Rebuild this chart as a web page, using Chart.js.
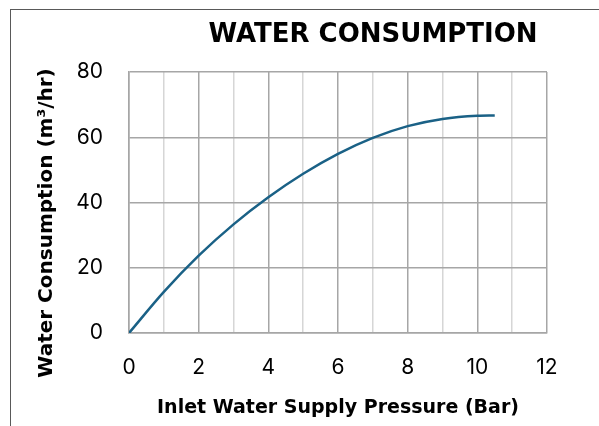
<!DOCTYPE html>
<html>
<head>
<meta charset="utf-8">
<script src="https://cdn.jsdelivr.net/npm/chart.js@4"></script>
<style>
  html, body { margin: 0; padding: 0; background: #fff; }
  #wrap { position: relative; width: 599px; height: 426px; overflow: hidden; }
  #frame { position: absolute; left: 10px; top: 9px; width: 700px; height: 500px;
           border-left: 1.5px solid #595959; border-top: 1.5px solid #595959; }
  canvas { position: absolute; left: 0; top: 0; }
</style>
</head>
<body>
<div id="wrap">
  <div id="frame"></div>
  <canvas id="waterChart" width="599" height="426"></canvas>
</div>
<script>
// pressure (bar) vs consumption (m3/hr)
const pressure = [0, 1, 2, 3, 4, 5, 6, 7, 8, 9, 10, 10.5];
const consumption = [0, 12.6, 23.7, 33.3, 41.6, 48.8, 54.9, 59.8, 63.4, 65.6, 66.6, 66.7];

const chartTitle = 'WATER CONSUMPTION';
const xTitle = 'Inlet Water Supply Pressure (Bar)';
const yTitle = 'Water Consumption (m³/hr)';

const points = pressure.map((p, i) => ({ x: p, y: consumption[i] }));

// titles placed where the original has them
const titlesPlugin = {
  id: 'titles',
  afterDraw(chart) {
    const ctx = chart.ctx;
    ctx.save();
    ctx.fillStyle = '#000';
    ctx.textAlign = 'center';
    ctx.textBaseline = 'alphabetic';
    ctx.font = 'bold 26px "DejaVu Sans"';
    ctx.fillText(chartTitle, 373, 42);

    ctx.translate(52, 223);
    ctx.rotate(-Math.PI / 2);
    ctx.font = 'bold 20px "DejaVu Sans"';
    ctx.fillText(yTitle, 0, 0);
    ctx.restore();
  }
};

const ctx = document.getElementById('waterChart').getContext('2d');
new Chart(ctx, {
  type: 'scatter',
  data: {
    datasets: [{
      data: points,
      showLine: true,
      borderColor: '#1a6186',
      borderWidth: 2.5,
      pointRadius: 0,
      cubicInterpolationMode: 'monotone',
      fill: false
    }]
  },
  options: {
    responsive: false,
    animation: false,
    layout: { padding: { top: 72, right: 52, left: 0, bottom: 0 } },
    plugins: {
      legend: { display: false },
      tooltip: { enabled: false }
    },
    scales: {
      x: {
        type: 'linear',
        min: 0,
        max: 12,
        afterFit: s => { s.height = 93; },
        ticks: {
          stepSize: 1,
          padding: 22,
          color: '#000',
          font: { family: 'Inter', size: 21 },
          callback: v => (v % 2 === 0 ? v : '')
        },
        grid: {
          drawTicks: false,
          lineWidth: 1.5,
          color: c => (c.tick && c.tick.value % 2 !== 0 ? '#d6d6d6' : '#a6a6a6')
        },
        border: { color: '#a6a6a6', width: 1.5 },
        title: {
          display: true,
          text: xTitle,
          color: '#000',
          font: { family: 'DejaVu Sans', size: 19, weight: 'bold' },
          padding: { top: 0, bottom: 7 }
        }
      },
      y: {
        min: 0,
        max: 80,
        afterFit: s => { s.width = 129; },
        ticks: {
          stepSize: 20,
          padding: 26,
          color: '#000',
          font: { family: 'Inter', size: 21 }
        },
        grid: { drawTicks: false, lineWidth: 1.5, color: '#a6a6a6' },
        border: { color: '#a6a6a6', width: 1.5 }
      }
    }
  },
  plugins: [titlesPlugin]
});
</script>
</body>
</html>
